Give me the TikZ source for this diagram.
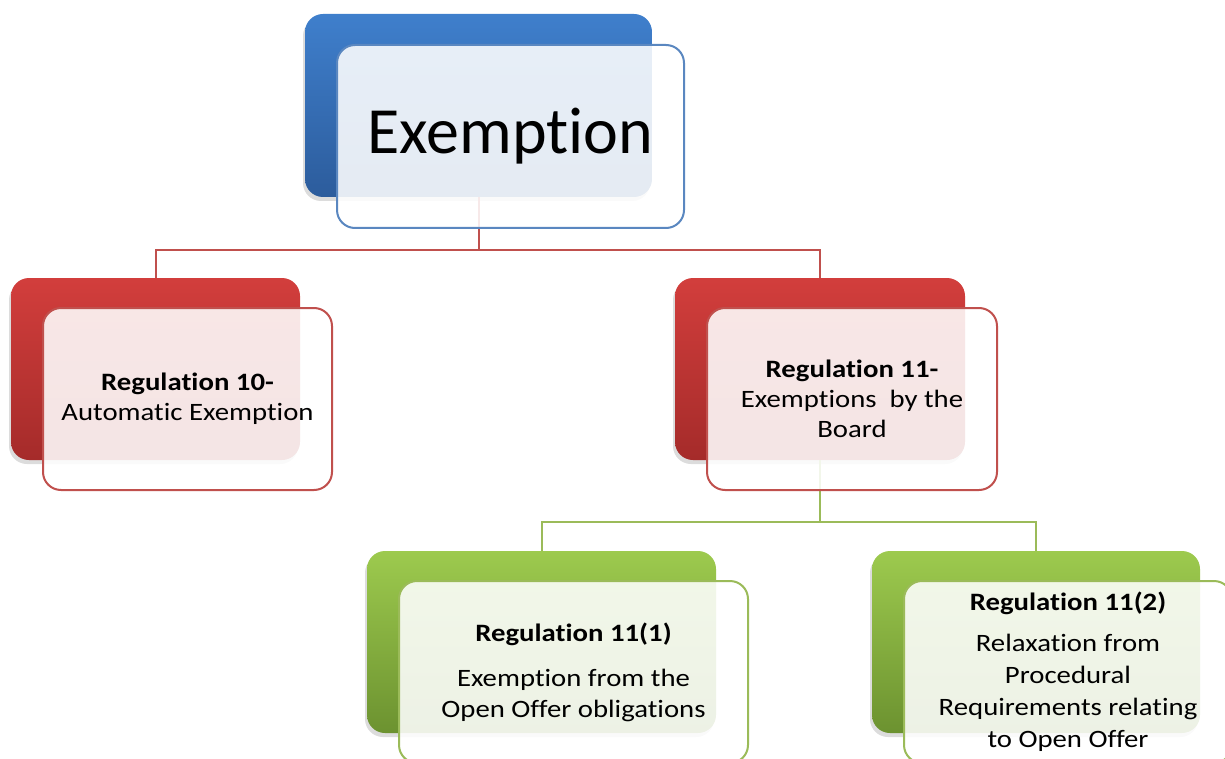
\documentclass[tikz,border=0pt]{standalone}
\usepackage{fontspec}
\setmainfont[RawFeature={-liga;-clig;-calt;-dlig;-rlig}]{Carlito}
\newfontfamily\boxfont[FakeStretch=1.15, RawFeature={-liga;-clig;-calt;-dlig;-rlig}]{Carlito}
\usetikzlibrary{shadows}

\definecolor{bluetop}{HTML}{3F7FCC}
\definecolor{bluebot}{HTML}{2C5C9C}
\definecolor{blueline}{HTML}{5A87C0}
\definecolor{redtop}{HTML}{D23E3C}
\definecolor{redbot}{HTML}{A52B2A}
\definecolor{redline}{HTML}{C0504D}
\definecolor{greentop}{HTML}{9DCA4E}
\definecolor{greenbot}{HTML}{6C9230}
\definecolor{greenline}{HTML}{9BBB59}

\tikzset{
  backbox/.style={rectangle, rounded corners=18pt, draw=none,
    drop shadow={opacity=0.28, shadow xshift=-2pt, shadow yshift=-4pt}},
  frontbox/.style={rectangle, rounded corners=18pt, line width=2pt,
    fill=white, fill opacity=0.88, draw opacity=1, text opacity=1,
    align=center, inner sep=2pt},
  bluebox/.style={backbox, top color=bluetop, bottom color=bluebot},
  redbox/.style={backbox, top color=redtop, bottom color=redbot},
  greenbox/.style={backbox, top color=greentop, bottom color=greenbot},
  bluefront/.style={frontbox, draw=blueline},
  redfront/.style={frontbox, draw=redline, font=\boxfont\fontsize{25}{30}\selectfont},
  greenfront/.style={frontbox, draw=greenline, font=\boxfont\fontsize{25}{31}\selectfont},
  redlink/.style={draw=redline, line width=2pt},
  greenlink/.style={draw=greenline, line width=2pt},
}

\begin{document}
\begin{tikzpicture}[x=1pt, y=-1pt]
\useasboundingbox (0,0) rectangle (1225,759);

% junction points of the two elbow connectors
\coordinate (j1) at (478.5,250);
\coordinate (j2) at (820,522);

% back (coloured) boxes
\node[bluebox, minimum width=347pt, minimum height=183pt] (tb) at (478.5,105.5) {};
\node[redbox, minimum width=289pt, minimum height=182pt] (lb) at (155.5,369) {};
\node[redbox, minimum width=290pt, minimum height=182pt] (rb) at (820,369) {};
\node[greenbox, minimum width=349pt, minimum height=182pt] (glb) at (541.5,642) {};
\node[greenbox, minimum width=328pt, minimum height=182pt] (grb) at (1036,642) {};

% connectors, passing under the translucent front boxes
\draw[redlink] (tb.south) -- (j1) -| (lb.north);
\draw[redlink] (j1) -| (rb.north);
\draw[greenlink] (rb.south) -- (j2) -| (glb.north);
\draw[greenlink] (j2) -| (grb.north);

% front (text) boxes
\node[bluefront, minimum width=347pt, minimum height=183pt,
      font=\fontsize{66}{79}\selectfont] (tf) at (510.5,136.5) {Exemption};
\node[redfront, minimum width=289pt, minimum height=182pt] (lf) at (187.5,399)
  {\textbf{Regulation 10-}\\Automatic Exemption};
\node[redfront, minimum width=290pt, minimum height=182pt] (rf) at (852,399)
  {\textbf{Regulation 11-}\\Exemptions\ \ by the\\Board};
\node[greenfront, minimum width=349pt, minimum height=182pt] (glf) at (573.5,672)
  {\textbf{Regulation 11(1)}\\[14pt]Exemption from the\\Open Offer obligations};
\node[greenfront, minimum width=328pt, minimum height=182pt,
      font=\boxfont\fontsize{25}{32}\selectfont] (grf) at (1068,672)
  {\textbf{Regulation 11(2)}\\[9pt]Relaxation from\\Procedural\\Requirements relating\\to Open Offer};
\end{tikzpicture}
\end{document}
